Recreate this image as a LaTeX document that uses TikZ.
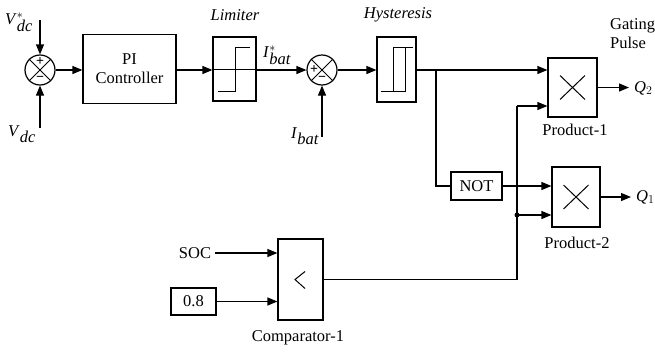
\documentclass[tikz,border=0pt]{standalone}
\usepackage{fontspec}
\setmainfont{Liberation Serif}
\usetikzlibrary{arrows.meta,calc}
\begin{document}
\begin{tikzpicture}[x=1pt,y=-1pt,
  font=\fontsize{16.5}{19}\selectfont,
  wire/.style={line width=1.2pt},
  arr/.style={wire,-{Triangle[length=10pt,width=8pt]}},
  blk/.style={draw,line width=1.2pt,rectangle,inner sep=0pt,align=center},
  sumnode/.style={draw,line width=1.2pt,circle,inner sep=0pt,minimum size=30pt},
  lbl/.style={inner sep=0pt},
  pm/.style={inner sep=0pt,font=\fontsize{14}{14}\selectfont\bfseries},
  sym/.style={line width=1pt}]
\useasboundingbox (0,0) rectangle (655,351);
% blocks
\node[sumnode] (sum1) at (40,70) {};
\node[blk,minimum width=93pt,minimum height=69pt] (pi) at (129.5,69) {PI\\Controller};
\node[blk,minimum width=43pt,minimum height=64pt] (lim) at (234.5,69) {};
\node[sumnode] (sum2) at (322,70) {};
\node[blk,minimum width=39pt,minimum height=65pt] (hys) at (396.5,69.5) {};
\node[blk,minimum width=49pt,minimum height=59pt] (prod1) at (572.5,87.5) {};
\node[blk,minimum width=48pt,minimum height=60pt] (prod2) at (576,197) {};
\node[blk,minimum width=51pt,minimum height=28pt] (notb) at (476.5,186) {NOT};
\node[blk,minimum width=45pt,minimum height=81pt] (comp) at (300.5,279.5) {};
\node[blk,minimum width=45pt,minimum height=27pt] (c08) at (193.5,301.5) {0.8};
% sum symbols
\draw[sym] (sum1.north west) -- (sum1.south east) (sum1.north east) -- (sum1.south west);
\draw[sym] (sum2.north west) -- (sum2.south east) (sum2.north east) -- (sum2.south west);
\node[pm] (p1) at (40,62) {+};
\node[pm] (m1) at (40,79) {\textminus};
\node[pm] (p2) at (314,70) {+};
\node[pm] (m2) at (322,79) {\textminus};
% limiter symbol
\draw[sym] (lim.west) -- (lim.east);
\draw[sym] (218,91) -- (235,91) -- (235,47) -- (250,47);
% hysteresis symbol
\draw[sym] (381,91) -- (405,91) -- (405,47);
\draw[sym] (413,47) -- (393,47) -- (393,91);
% product symbols
\draw[sym] ($(prod1)+(-12.5,-12)$) -- ($(prod1)+(12.5,12)$) ($(prod1)+(12.5,-12)$) -- ($(prod1)+(-12.5,12)$);
\draw[sym] ($(prod2)+(-12.5,-12)$) -- ($(prod2)+(12.5,12)$) ($(prod2)+(12.5,-12)$) -- ($(prod2)+(-12.5,12)$);
% comparator symbol
\draw[sym] ($(comp)+(4.5,-8)$) -- ($(comp)+(-5.5,0)$) -- ($(comp)+(4.5,9)$);
% coordinates
\coordinate (vdcs) at (40,20);
\coordinate (vdc) at (40,128);
\coordinate (ibatin) at (322,137);
\coordinate (jn) at (436,70);
\coordinate (vtop) at (517,106);
\coordinate (dot) at (517,215);
\coordinate (q2) at (629,87.5);
\coordinate (q1) at (631,197);
% labels
\node[lbl] (lvdcs) at (19,22) {\textit{V}$^{*}_{\textit{dc}}$};
\node[lbl] (lvdc) at (22,134) {\textit{V}$_{\textit{dc}}$};
\node[lbl] (llim) at (235,15) {\textit{Limiter}};
\node[lbl] (lhys) at (398,15) {\textit{Hysteresis}};
\node[lbl] (libs) at (277,55) {\textit{I}$^{*}_{\textit{bat}}$};
\node[lbl] (libat) at (305,136) {\textit{I}$_{\textit{bat}}$};
\node[lbl,anchor=west,align=left] (lgate) at (610,34) {Gating\\Pulse};
\node[lbl,anchor=west] (lq2) at (634,88) {\textit{Q}$_{2}$};
\node[lbl,anchor=west] (lq1) at (636,197) {\textit{Q}$_{1}$};
\node[lbl] (lp1) at (575,130) {Product-1};
\node[lbl] (lp2) at (577,243) {Product-2};
\node[lbl] (lcomp) at (298,338) {Comparator-1};
\node[lbl] (soc) at (195,253) {SOC};
% connectors
\draw[arr] (vdcs) -- (sum1.north);
\draw[arr] (vdc) -- (sum1.south);
\draw[arr] (sum1.east) -- (pi.west |- sum1.east);
\draw[arr] (pi.east |- sum1.east) -- (lim.west |- sum1.east);
\draw[arr] (lim.east |- sum2.west) -- (sum2.west);
\draw[arr] (ibatin) -- (sum2.south);
\draw[arr] (sum2.east) -- (hys.west |- sum2.east);
\draw[wire] (hys.east |- jn) -- (jn);
\draw[arr] (jn) -- (prod1.west |- jn);
\draw[wire] (jn) |- (notb.west);
\draw[arr] (notb.east) -- (prod2.west |- notb.east);
\draw[wire] (comp.east) -| (vtop);
\draw[arr] (vtop) -- (prod1.west |- vtop);
\draw[arr] (dot) -- (prod2.west |- dot);
\fill (dot) circle (2.5pt);
\draw[arr] (prod1.east) -- (q2);
\draw[arr] (prod2.east) -- (q1);
\draw[arr] ([xshift=4pt]soc.east) -- (comp.west |- soc.east);
\draw[arr] (c08.east) -- (comp.west |- c08.east);
\end{tikzpicture}
\end{document}
